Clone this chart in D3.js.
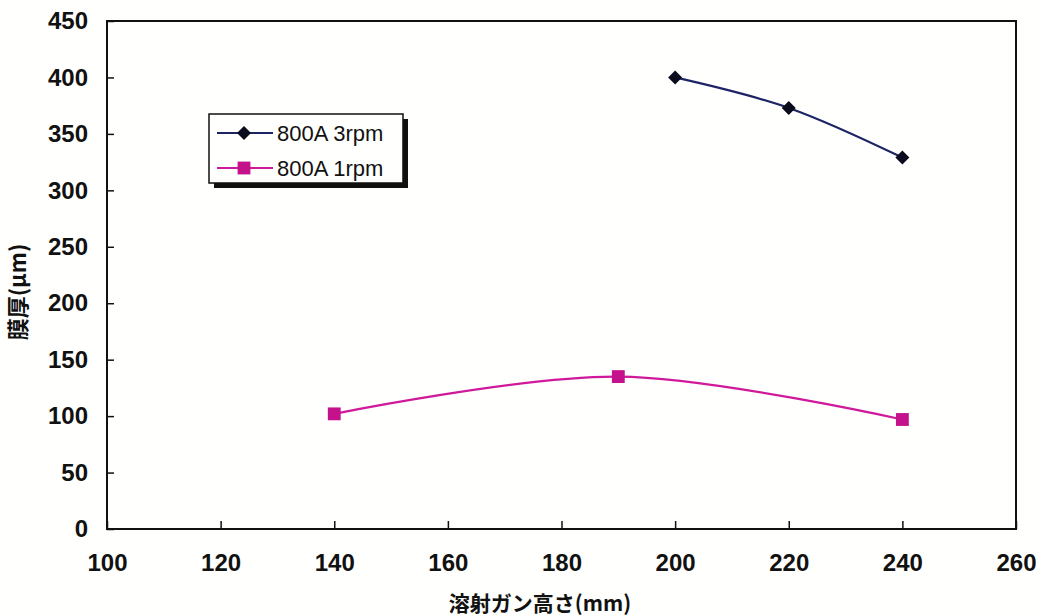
<!DOCTYPE html>
<html>
<head>
<meta charset="utf-8">
<script src="https://cdn.jsdelivr.net/npm/d3@7/dist/d3.min.js"></script>
<style>
  html, body { margin: 0; padding: 0; background: #fffffd; }
  svg { display: block; }
  text { font-family: "Liberation Sans", Arial, sans-serif; fill: #111; }
  .jp { font-family: "Noto Sans CJK JP", "Noto Sans", sans-serif; }
</style>
</head>
<body>
<svg id="chart" width="1046" height="616"></svg>
<script>
// Spray gun height (mm) vs coating thickness (µm)
const seriesNames = ["800A 3rpm", "800A 1rpm"];
const height3rpm = [200, 220, 240];
const thick3rpm = [400, 373, 329];
const height1rpm = [140, 190, 240];
const thick1rpm = [102, 135, 97];
const xTicks = [100, 120, 140, 160, 180, 200, 220, 240, 260];
const yTicks = [0, 50, 100, 150, 200, 250, 300, 350, 400, 450];
const xTitle = "溶射ガン高さ(mm)";
const yTitle = "膜厚(μm)";

const svg = d3.select("#chart");
const m = { left: 107, top: 21, right: 1016, bottom: 529 };

const x = d3.scaleLinear().domain([100, 260]).range([m.left, m.right]);
const y = d3.scaleLinear().domain([0, 450]).range([m.bottom, m.top]);

// plot frame
svg.append("rect")
  .attr("x", m.left).attr("y", m.top)
  .attr("width", m.right - m.left).attr("height", m.bottom - m.top)
  .attr("fill", "none").attr("stroke", "#111").attr("stroke-width", 2);

// y axis: inward ticks, labels on the left
const yAxis = d3.axisLeft(y).tickValues(yTicks).tickSize(-7).tickPadding(19);
const gy = svg.append("g").attr("transform", `translate(${m.left},0)`).call(yAxis);
gy.select(".domain").remove();
gy.selectAll("line").attr("stroke", "#111").attr("stroke-width", 1.5);
gy.selectAll("text").attr("font-size", 24).attr("font-weight", "bold").attr("fill", "#111");

// x axis: inward ticks, labels below
const xAxis = d3.axisBottom(x).tickValues(xTicks).tickSize(-8).tickPadding(25);
const gx = svg.append("g").attr("transform", `translate(0,${m.bottom})`).call(xAxis);
gx.select(".domain").remove();
gx.selectAll("line").attr("stroke", "#111").attr("stroke-width", 1.5);
gx.selectAll("text").attr("font-size", 24).attr("font-weight", "bold").attr("fill", "#111");

// axis titles
svg.append("text").attr("class", "jp")
  .attr("x", 540).attr("y", 611)
  .attr("text-anchor", "middle").attr("font-size", 21).attr("font-weight", "bold")
  .text(xTitle);
svg.append("text").attr("class", "jp")
  .attr("transform", "translate(26,292) rotate(-90)")
  .attr("text-anchor", "middle").attr("font-size", 22).attr("font-weight", "bold")
  .text(yTitle);

const line = d3.line()
  .x(d => x(d[0])).y(d => y(d[1]))
  .curve(d3.curveCatmullRom.alpha(0.5));

const data3 = height3rpm.map((h, i) => [h, thick3rpm[i]]);
const data1 = height1rpm.map((h, i) => [h, thick1rpm[i]]);

const navyLine = "#1c2466", diamondFill = "#0b0b1e";
const pinkLine = "#d0189a", squareFill = "#c4118c";

const diamond = d3.symbol().type(d3.symbolDiamond2).size(125);
const square = d3.symbol().type(d3.symbolSquare).size(165);

// 3 rpm series
svg.append("path").datum(data3).attr("d", line)
  .attr("fill", "none").attr("stroke", navyLine).attr("stroke-width", 2.2);
svg.append("g").selectAll("path").data(data3).join("path")
  .attr("d", diamond)
  .attr("transform", d => `translate(${x(d[0])},${y(d[1])})`)
  .attr("fill", diamondFill);

// 1 rpm series
svg.append("path").datum(data1).attr("d", line)
  .attr("fill", "none").attr("stroke", pinkLine).attr("stroke-width", 2.2);
svg.append("g").selectAll("path").data(data1).join("path")
  .attr("d", square)
  .attr("transform", d => `translate(${x(d[0])},${y(d[1])})`)
  .attr("fill", squareFill);

// legend with drop shadow
const lg = svg.append("g").attr("transform", "translate(209,114)");
lg.append("rect").attr("x", 5).attr("y", 5).attr("width", 194).attr("height", 69).attr("fill", "#111");
lg.append("rect").attr("x", 0).attr("y", 0).attr("width", 194).attr("height", 69)
  .attr("fill", "#fffffd").attr("stroke", "#111").attr("stroke-width", 1.5);

const legendItems = [
  { name: seriesNames[0], stroke: navyLine, fill: diamondFill, sym: diamond, cy: 19 },
  { name: seriesNames[1], stroke: pinkLine, fill: squareFill, sym: square, cy: 54 }
];
legendItems.forEach(it => {
  lg.append("line").attr("x1", 8).attr("x2", 64).attr("y1", it.cy).attr("y2", it.cy)
    .attr("stroke", it.stroke).attr("stroke-width", 2);
  lg.append("path").attr("d", it.sym).attr("transform", `translate(35,${it.cy})`).attr("fill", it.fill);
  lg.append("text").attr("x", 68).attr("y", it.cy + 8)
    .attr("font-size", 22).attr("font-weight", 500).text(it.name);
});
</script>
</body>
</html>
